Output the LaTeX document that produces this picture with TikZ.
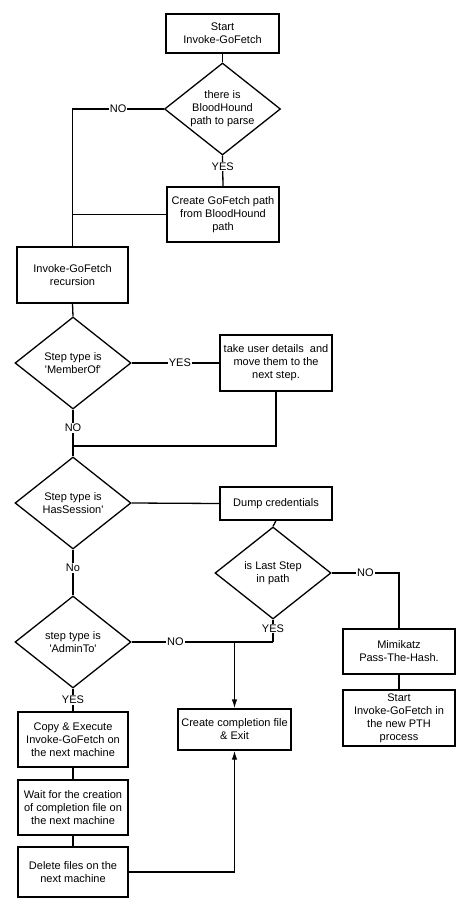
\documentclass[tikz,border=0pt]{standalone}
\usepackage{fontspec}
\setmainfont{Liberation Sans}
\usepackage{tikz}
\usetikzlibrary{arrows,arrows.meta,shapes,calc}
\newcommand{\flowfont}{\fontsize{11}{13}\selectfont}
\newcommand{\sq}{\textquotesingle}
\tikzstyle{block}=[rectangle,draw,line width=1.3pt,minimum width=112pt,align=center,inner sep=1pt,font=\flowfont]
\tikzstyle{decision}=[diamond,draw,line width=1.3pt,minimum width=116pt,minimum height=92pt,aspect=1.26,inner sep=0pt,align=center,font=\flowfont]
\tikzstyle{line}=[draw,line width=1.3pt]
\tikzstyle{arrow}=[line,-{Latex[length=9pt,width=5.5pt]}]
\tikzstyle{lbl}=[fill=white,inner sep=1pt,font=\flowfont]

\begin{document}
\begin{tikzpicture}[x=1pt,y=-1pt]
		\useasboundingbox (0,0) rectangle (461,904);
		% main column
		\node[block,minimum width=113pt,minimum height=39pt] (start) at (222.5,33.5) {Start\\Invoke-GoFetch};
		\node[decision] (bh) at (222.5,109) {there is\\BloodHound\\path to parse};
		\node[block,minimum height=55pt] (create) at (223,214.5) {Create GoFetch path\\from BloodHound\\path};
		\node[block,minimum width=111pt,minimum height=56pt] (rec) at (72.5,275) {Invoke-GoFetch\\recursion};
		\node[decision] (member) at (73,363) {Step type is\\\sq MemberOf\sq};
		\node[block,minimum height=56pt] (take) at (276,363) {take user details\ \ and\\move them to the\\next step.};
		\node[decision] (session) at (73,503) {Step type is\\HasSession\sq};
		\node[block,minimum height=33pt] (dump) at (276,503.5) {Dump credentials};
		\node[decision] (last) at (273,573) {is Last Step\\in path};
		\node[decision] (admin) at (73,642) {step type is\\\sq AdminTo\sq};
		% bottom
		\node[block,minimum width=113pt,minimum height=41pt] (exit) at (234.5,729.5) {Create completion file\\\& Exit};
		\node[block,minimum width=110pt,minimum height=55pt] (copy) at (73,739.5) {Copy \& Execute\\Invoke-GoFetch on\\the next machine};
		\node[block,minimum width=110pt,minimum height=55pt] (wait) at (73,807.5) {Wait for the creation\\of completion file on\\the next machine};
		\node[block,minimum width=110pt,minimum height=50pt] (delete) at (73,872) {Delete files on the\\next machine};
		% right
		\node[block,minimum height=45pt] (mimi) at (399,651.5) {Mimikatz\\Pass-The-Hash.};
		\node[block,minimum height=56pt] (pth) at (399,718) {Start\\Invoke-GoFetch in\\the new PTH\\process};
		% joints
		\coordinate (join) at (73,446);
		\coordinate (fork) at (last.south |- admin.east);
		\coordinate (drop) at (exit.north |- admin.east);

		% connection
		\path[line] (start) -- (bh);
		\path[line] (bh.west) -- node[lbl] {NO} (bh.west -| rec.north) -- (rec.north);
		\path[line] (bh.south) -- node[lbl,pos=0.35] {YES} (create.north);
		\path[line] (create.west) -- (create.west -| rec.north);
		\path[line] (rec.south) -- (member.north);
		\path[line] (member.east) -- node[lbl,pos=0.55] {YES} (take.west);
		\path[line] (member.south) -- node[lbl] {NO} (join) -- (session.north);
		\path[line] (take.south) -- (take.south |- join) -- (join);
		\path[line] (session.east) -- (dump.west);
		\path[line] (dump.south) -- (last.north);
		\path[line] (last.east) -- node[lbl,pos=0.5] {NO} (last.east -| mimi.north) -- (mimi.north);
		\path[line] (mimi.south) -- (pth.north);
		\path[line] (session.south) -- node[lbl,pos=0.4] {No} (admin.north);
		\path[line] (last.south) -- node[lbl,pos=0.4] {YES} (fork);
		\path[line] (admin.east) -- node[lbl,pos=0.31] {NO} (fork);
		\path[arrow] (drop) -- (exit.north);
		\path[line] (admin.south) -- node[lbl] {YES} (copy.north);
		\path[line] (copy.south) -- (wait.north);
		\path[line] (wait.south) -- (delete.north);
		\path[arrow] (delete.east) -- (delete.east -| exit.south) -- (exit.south);
	\end{tikzpicture}
\end{document}
